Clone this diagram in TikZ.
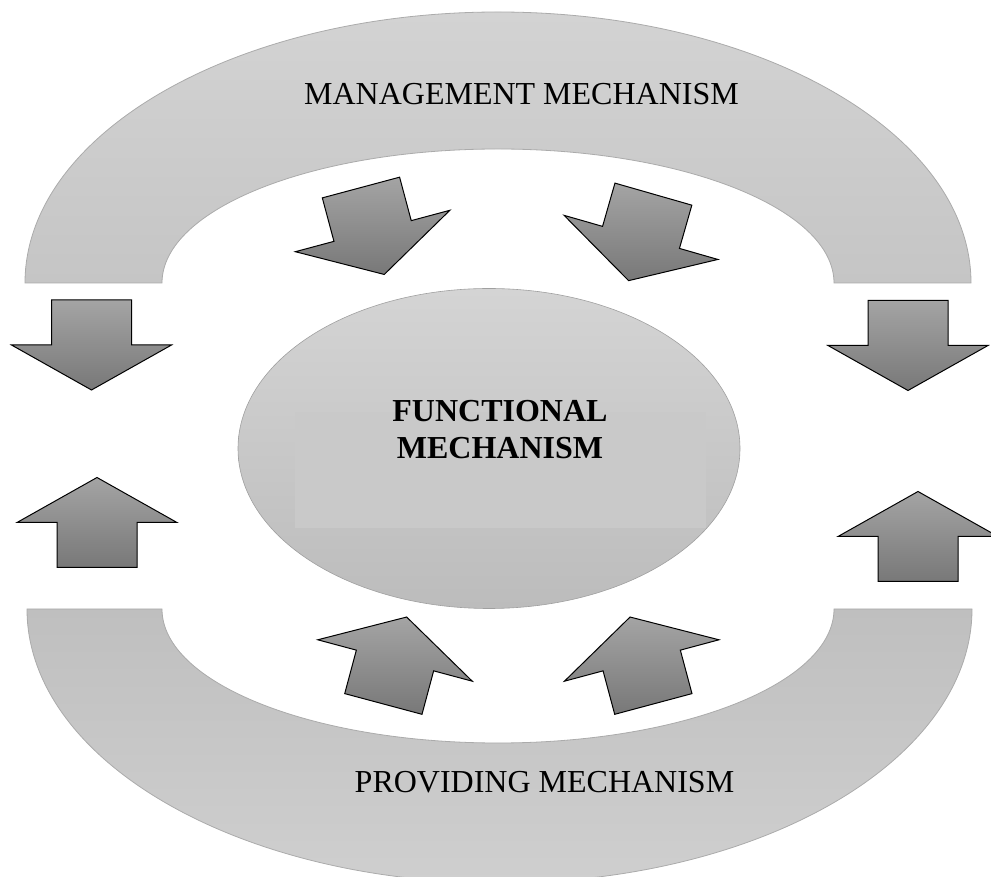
\documentclass[tikz,border=0pt]{standalone}
\usepackage{fontspec}
\setmainfont{Liberation Serif}
\usetikzlibrary{shapes.geometric, positioning}
\definecolor{bandline}{HTML}{ABABAB}
\definecolor{arrowlight}{HTML}{A4A4A4}
\definecolor{arrowdark}{HTML}{787878}
\tikzset{
band/.style={draw=bandline, line width=0.8pt},
flow/.style={draw=black, line width=1pt, top color=arrowlight, bottom color=arrowdark},
caption/.style={font=\fontsize{32}{37}\selectfont, anchor=base},
}
\newcommand{\flowarrow}[3]{%
  \draw[flow, shift={(#1,#2)}, rotate=#3] (-40,45) -- (40,45) -- (40,0) -- (80,0)
    -- (0,-45) -- (-80,0) -- (-40,0) -- cycle;}

\begin{document}
\begin{tikzpicture}[x=1pt, y=1pt]
    \useasboundingbox (0,0) rectangle (991,876);
    % the two bands
    \draw[band, top color={rgb,255:red,211;green,211;blue,211}, bottom color={rgb,255:red,197;green,197;blue,197}]
        (25,593) arc[start angle=180, end angle=0, x radius=473, y radius=271]
        -- (834,593) arc[start angle=0, end angle=180, x radius=336, y radius=134] -- cycle;
    \draw[band, top color={rgb,255:red,191;green,191;blue,191}, bottom color={rgb,255:red,207;green,207;blue,207}]
        (27,267) arc[start angle=180, end angle=360, x radius=472.5, y radius=274]
        -- (834,267) arc[start angle=360, end angle=180, x radius=336, y radius=134] -- cycle;
    % centre
    \node[ellipse, draw={rgb,255:red,160;green,160;blue,160}, line width=0.6pt,
          top color={rgb,255:red,212;green,212;blue,212}, bottom color={rgb,255:red,188;green,188;blue,188},
          minimum width=502pt, minimum height=320pt] (func) at (489,427.5) {};
    \node[fill={rgb,255:red,201;green,201;blue,201}, minimum width=411pt, minimum height=116pt, inner sep=0pt] (funcbox) at (500.5,406) {};
    \node[font=\bfseries\fontsize{32}{37}\selectfont, align=center] (functext) at (500,446) {FUNCTIONAL\\MECHANISM};
    \node[caption] (mgmt) at (521.5,771) {MANAGEMENT MECHANISM};
    \node[caption] (prov) at (544.5,83) {PROVIDING MECHANISM};
    % arrows
    \flowarrow{91.5}{531}{0}
    \flowarrow{908}{530.5}{0}
    \flowarrow{97}{353.5}{180}
    \flowarrow{918}{339.5}{180}
    \flowarrow{372.6}{645}{15}
    \flowarrow{641}{638.6}{-16}
    \flowarrow{395}{215.5}{165}
    \flowarrow{641.7}{215.5}{195}
\end{tikzpicture}
\end{document}
